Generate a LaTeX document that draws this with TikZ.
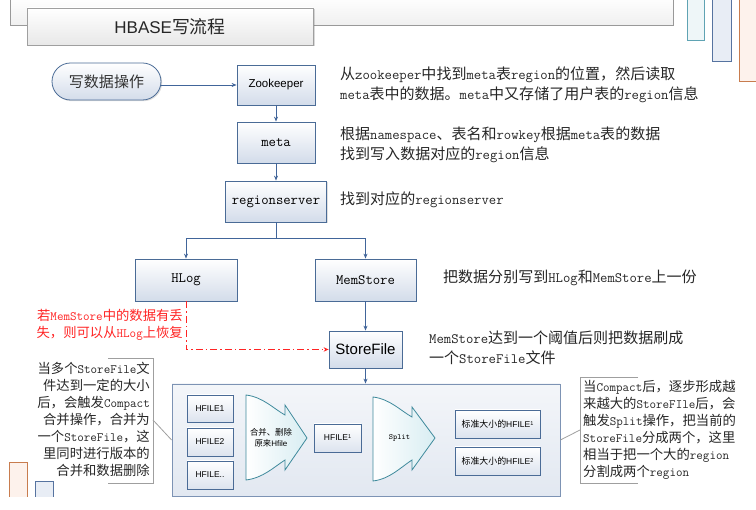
\documentclass[tikz,border=0pt]{standalone}
\usepackage{fontspec}
\setmainfont{Liberation Sans}
\newfontfamily\cjk[Scale=1.05]{Noto Sans CJK SC}
\newcommand{\zh}[1]{{\cjk #1}}
\usetikzlibrary{arrows.meta,shadows}
\definecolor{boxblue}{HTML}{4A6B96}
\definecolor{boxfill}{HTML}{D3DCEA}
\definecolor{linecol}{HTML}{41659A}
\definecolor{contborder}{HTML}{7D93B4}
\definecolor{contfill}{HTML}{E2E8F1}
\definecolor{teal}{HTML}{3F8A9C}
\definecolor{tealfill}{HTML}{D8EDF2}
\definecolor{redc}{HTML}{FF2424}
\definecolor{decoteal}{HTML}{5FA3B3}
\definecolor{decotealf}{HTML}{EEF6F8}
\definecolor{decoblue}{HTML}{5673A0}
\definecolor{decobluef}{HTML}{E8EDF5}
\definecolor{decoorange}{HTML}{C87C4E}
\definecolor{decoorangef}{HTML}{FDF2EC}
\tikzset{
  box/.style={draw=boxblue, line width=0.8pt, top color=white, bottom color=boxfill,
    inner sep=0pt, drop shadow={opacity=0.25, shadow xshift=1.2pt, shadow yshift=-1.2pt}},
  smallbox/.style={draw=boxblue, line width=0.8pt, top color=white, bottom color=boxfill!80,
    inner sep=0pt, font=\fontsize{8.5}{10}\selectfont},
  arr/.style={draw=linecol, line width=0.8pt, -{Stealth[length=5pt,width=4pt]}},
  plainline/.style={draw=linecol, line width=0.8pt},
  reddash/.style={draw=redc, line width=0.8pt, dash pattern=on 7pt off 3pt on 1.5pt off 3pt,
    -{Stealth[length=5pt,width=4.5pt]}},
  note/.style={font={\fontsize{14.3}{20}\selectfont\ttfamily}, align=left, inner sep=1pt, text=black!85},
  callnote/.style={font={\fontsize{12.7}{17}\selectfont\ttfamily}, inner sep=1pt, text=black!85},
  callline/.style={draw=gray!75, line width=0.8pt},
  blockarrow/.style={draw=teal, line width=0.8pt, left color=white, right color=tealfill},
}
\begin{document}
\begin{tikzpicture}[x=1pt,y=-1pt]
\useasboundingbox (0,0) rectangle (756,510);
% header bar and decorations
\draw[draw=gray!80, line width=0.8pt, top color=white, bottom color=gray!12] (10,-3) rectangle (673,25);
\draw[draw=decoteal, line width=0.8pt, fill=decotealf] (687,-3) rectangle (704,40);
\draw[draw=decoblue, line width=0.8pt, fill=decobluef] (712,-3) rectangle (731,61);
\draw[draw=decoorange, line width=0.8pt, fill=decoorangef] (739,-3) rectangle (760,81);
\fill[decoorangef] (9,462) rectangle (27,497);
\draw[draw=decoorange, line width=0.8pt] (9,497) -- (9,462) -- (27,462) -- (27,497);
\fill[decobluef] (35,481) rectangle (53,497);
\draw[draw=decoblue, line width=0.8pt] (35,497) -- (35,481) -- (53,481) -- (53,497);
% title
\node[draw=gray!75, line width=0.8pt, top color=white, bottom color=gray!18, minimum width=286pt, minimum height=37pt,
  drop shadow={opacity=0.3, shadow xshift=1.5pt, shadow yshift=-1.5pt},
  font=\fontsize{17}{20}\selectfont, text=black!85] (title) at (170,26.5) {HBASE\zh{写流程}};
% start oval
\node[box, rounded corners=18.5pt, minimum width=109pt, minimum height=37pt,
  font=\fontsize{14.3}{18}\selectfont, text=black!80] (oval) at (106.5,81.5) {\zh{写数据操作}};
% main column
\node[box, minimum width=78pt, minimum height=40pt, font=\fontsize{11.5}{14}\selectfont] (zk) at (276,85) {Zookeeper};
\node[box, minimum width=78pt, minimum height=41pt, font={\fontsize{14.3}{16}\selectfont\ttfamily}] (meta) at (276,142.5) {meta};
\node[box, minimum width=101pt, minimum height=41pt, font={\fontsize{14.3}{16}\selectfont\ttfamily}] (rs) at (276,201.5) {regionserver};
\coordinate (fork) at (276,238);
\node[box, minimum width=102pt, minimum height=42pt, font={\fontsize{14.3}{16}\selectfont\ttfamily}] (hlog) at (186,280) {HLog};
\node[box, minimum width=101pt, minimum height=42pt, font={\fontsize{14.3}{16}\selectfont\ttfamily}] (mem) at (365.5,280) {MemStore};
\node[box, minimum width=73pt, minimum height=37pt, font=\fontsize{15}{18}\selectfont] (sf) at (365.5,349.5) {StoreFile};
% container
\node[draw=contborder, line width=0.8pt, top color=white!60!contfill, bottom color=contfill,
  minimum width=388pt, minimum height=112pt, inner sep=0pt] (cont) at (366,440) {};
\node[smallbox, minimum width=46pt, minimum height=27pt] (hf1) at (210,408.5) {HFILE1};
\node[smallbox, minimum width=46pt, minimum height=28pt] (hf2) at (210,442) {HFILE2};
\node[smallbox, minimum width=46pt, minimum height=28pt] (hf3) at (210,475) {HFILE..};
\node[smallbox, minimum width=47pt, minimum height=28pt] (hfp) at (337.5,438) {HFILE{\fontsize{5.5}{6}\selectfont\raisebox{2pt}{1}}};
\node[smallbox, minimum width=85pt, minimum height=28pt] (std1) at (497.5,424) {\zh{标准大小的}HFILE{\fontsize{5.5}{6}\selectfont\raisebox{2pt}{1}}};
\node[smallbox, minimum width=85pt, minimum height=28pt] (std2) at (497.5,461) {\zh{标准大小的}HFILE{\fontsize{5.5}{6}\selectfont\raisebox{2pt}{2}}};
% block arrows
\draw[blockarrow] (246,395) .. controls (263,397) and (274,409) .. (285,415) -- (285,405) -- (307,438)
  -- (285,470) -- (285,460) .. controls (274,467) and (263,478) .. (246,480) -- cycle;
\node[font=\fontsize{8}{11}\selectfont, align=center, inner sep=0pt] (merge) at (271,437.5) {\zh{合并、删除}\\\zh{原来}Hfile};
\draw[blockarrow] (373,397) .. controls (390,399) and (401,411) .. (412,417) -- (412,407) -- (435,438)
  -- (412,470) -- (412,460) .. controls (401,467) and (390,479) .. (373,481) -- cycle;
\node[font={\fontsize{8}{10}\selectfont\ttfamily}, inner sep=0pt] (split) at (399.5,438) {Split};
% connectors
\draw[arr] (oval.east |- zk.west) -- (zk.west);
\draw[arr] (zk.south) -- (meta.north);
\draw[arr] (meta.south) -- (rs.north);
\draw[plainline] (rs.south) -- (fork);
\draw[arr] (fork) -| (hlog.north);
\draw[arr] (fork) -| (mem.north);
\draw[arr] (mem.south) -- (sf.north);
\draw[arr] (sf.south) -- (sf.south |- cont.north);
\draw[reddash] (hlog.south) |- (sf.west);
% notes
\node[note, anchor=west] (t1) at (339,85) {\zh{从}zookeeper\zh{中找到}meta\zh{表}region\zh{的位置，然后读取}\\meta\zh{表中的数据。}meta\zh{中又存储了用户表的}region\zh{信息}};
\node[note, anchor=west] (t2) at (339,145) {\zh{根据}namespace\zh{、表名和}rowkey\zh{根据}meta\zh{表的数据}\\\zh{找到写入数据对应的}region\zh{信息}};
\node[note, anchor=west] (t3) at (339,200) {\zh{找到对应的}regionserver};
\node[note, anchor=west] (t4) at (442,278) {\zh{把数据分别写到}HLog\zh{和}MemStore\zh{上一份}};
\node[note, anchor=west] (t5) at (428,347.5) {MemStore\zh{达到一个阈值后则把数据刷成}\\\zh{一个}StoreFile\zh{文件}};
\node[callnote, text=redc, align=right, anchor=east] (redn) at (184,324.5) {\zh{若}MemStore\zh{中的数据有丢}\\\zh{失，则可以从}HLog\zh{上恢复}};
% left callout
\coordinate (lb1) at (108,358);
\coordinate (lb2) at (153,358);
\coordinate (lb3) at (153,483);
\coordinate (lb4) at (108,483);
\coordinate (lbc) at (153,420);
\draw[callline] (lb1) -- (lb2) -- (lb3) -- (lb4);
\draw[callline] (lbc) -- (cont.west);
\node[callnote, align=right, anchor=east] (lnote) at (151,419.5) {\zh{当多个}StoreFile\zh{文}\\\zh{件达到一定的大小}\\\zh{后，会触发}Compact\\\zh{合并操作，合并为}\\\zh{一个}StoreFile\zh{，这}\\\zh{里同时进行版本的}\\\zh{合并和数据删除}};
% right callout
\coordinate (rb1) at (638,377);
\coordinate (rb2) at (580,377);
\coordinate (rb3) at (580,483);
\coordinate (rb4) at (638,483);
\coordinate (rbc) at (580,430);
\draw[callline] (rb1) -- (rb2) -- (rb3) -- (rb4);
\draw[callline] (cont.east) -- (rbc);
\node[callnote, align=left, anchor=west] (rnote) at (582,429.5) {\zh{当}Compact\zh{后，逐步形成越}\\\zh{来越大的}StoreFIle\zh{后，会}\\\zh{触发}Split\zh{操作，把当前的}\\StoreFile\zh{分成两个，这里}\\\zh{相当于把一个大的}region\\\zh{分割成两个}region};
\end{tikzpicture}
\end{document}
